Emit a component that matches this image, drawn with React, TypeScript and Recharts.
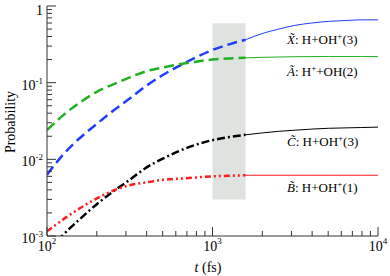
import React from "react";
import { LineChart, Line, XAxis, YAxis, ReferenceArea } from "recharts";

// time grid (fs), log spaced
const times = [100, 126, 158, 200, 251, 316, 398, 501, 631, 794, 1000, 1259, 1585, 1995, 2512, 3162, 3981, 5012, 6310, 7943, 10000];

const probX = [0.0063, 0.0117, 0.019, 0.029, 0.043, 0.062, 0.091, 0.126, 0.166, 0.214, 0.267, 0.316, 0.363, 0.437, 0.5, 0.56, 0.6, 0.63, 0.645, 0.66, 0.66];
const probA = [0.024, 0.038, 0.055, 0.076, 0.095, 0.117, 0.141, 0.158, 0.174, 0.188, 0.2, 0.207, 0.211, 0.214, 0.216, 0.218, 0.219, 0.219, 0.219, 0.219, 0.219];
const probC = [0.0006, 0.00105, 0.00166, 0.0026, 0.0038, 0.0054, 0.0078, 0.0102, 0.0129, 0.0155, 0.0178, 0.0195, 0.0209, 0.0221, 0.0232, 0.024, 0.0248, 0.0254, 0.0257, 0.026, 0.0263];
const probB = [0.00115, 0.00166, 0.0023, 0.0031, 0.0039, 0.0046, 0.005, 0.0054, 0.0056, 0.0058, 0.006, 0.0061, 0.0062, 0.0062, 0.0062, 0.0062, 0.0062, 0.0062, 0.0062, 0.0062, 0.0062];

// dashed part ends at the end of the shaded window
const splitIndex = 12;

const xTicks = [100, 200, 300, 400, 500, 600, 700, 800, 900, 1000, 2000, 3000, 4000, 5000, 6000, 7000, 8000, 9000, 10000];
const yTicks = [
  0.001, 0.002, 0.003, 0.004, 0.005, 0.006, 0.007, 0.008, 0.009,
  0.01, 0.02, 0.03, 0.04, 0.05, 0.06, 0.07, 0.08, 0.09,
  0.1, 0.2, 0.3, 0.4, 0.5, 0.6, 0.7, 0.8, 0.9, 1,
];

const shadeT = [1000, 1585];
const shadeP = [0.003, 0.594];

const FONT = "Liberation Serif, Times New Roman, DejaVu Serif, serif";
const AXIS = "#333";
const txt = { fontFamily: FONT };

const toRows = (vals: number[]) => times.map((t, i) => ({ t, p: vals[i] }));
const dashedPart = (vals: number[]) => toRows(vals).slice(0, splitIndex + 1);
const solidPart = (vals: number[]) => toRows(vals).slice(splitIndex);

const exponent = (v: number) => Math.round(Math.log10(v));
const isMajor = (v: number) => Math.abs(Math.log10(v) - exponent(v)) < 1e-6;

function BottomTick({ x, y, payload }: any) {
  const v = payload.value;
  const major = isMajor(v);
  return (
    <g>
      <line x1={x} x2={x} y1={y} y2={y - (major ? 9 : 5)} stroke={AXIS} />
      {major && (
        <text x={x} y={y + 15} textAnchor="middle" style={txt} fontSize={14} fill="#000">
          10<tspan dy={-7} fontSize={9}>{exponent(v)}</tspan>
        </text>
      )}
    </g>
  );
}

function TopTick({ x, y, payload }: any) {
  const major = isMajor(payload.value);
  return <line x1={x} x2={x} y1={y} y2={y + (major ? 9 : 5)} stroke={AXIS} />;
}

function LeftTick({ x, y, payload }: any) {
  const v = payload.value;
  const major = isMajor(v);
  const e = exponent(v);
  return (
    <g>
      <line x1={x} x2={x + (major ? 9 : 5)} y1={y} y2={y} stroke={AXIS} />
      {major &&
        (e === 0 ? (
          <text x={x - 4} y={y + 9} textAnchor="end" style={txt} fontSize={14} fill="#000">
            1
          </text>
        ) : (
          <text x={x - 4} y={y + 7} textAnchor="end" style={txt} fontSize={14} fill="#000">
            10<tspan dy={-6} fontSize={9}>{e}</tspan>
          </text>
        ))}
    </g>
  );
}

function RightTick({ x, y, payload }: any) {
  const major = isMajor(payload.value);
  return <line x1={x} x2={x - (major ? 9 : 5)} y1={y} y2={y} stroke={AXIS} />;
}

const series = [
  { key: "X", vals: probX, color: "#1f3cff", dash: "10 5" },
  { key: "A", vals: probA, color: "#20b020", dash: "10 5" },
  { key: "C", vals: probC, color: "#000000", dash: "8 3 2 3" },
  { key: "B", vals: probB, color: "#ff1c1c", dash: "6 3 2 3 2 3" },
];

function Sup({ children }: { children: React.ReactNode }) {
  return (
    <tspan dy={-5} fontSize={9}>
      {children}
    </tspan>
  );
}

export default function App() {
  return (
    <div style={{ position: "absolute", left: 0, top: 0, width: 390, height: 276, background: "#fff" }}>
      <LineChart width={390} height={276} margin={{ top: 6, right: 12, bottom: 0, left: 0 }}>
        <XAxis
          xAxisId="b"
          dataKey="t"
          type="number"
          scale="log"
          domain={[100, 10000]}
          allowDataOverflow
          ticks={xTicks}
          interval={0}
          height={40}
          tickSize={0}
          tickMargin={0}
          tickLine={false}
          tick={<BottomTick />}
          axisLine={{ stroke: AXIS }}
        />
        <XAxis
          xAxisId="t"
          orientation="top"
          dataKey="t"
          type="number"
          scale="log"
          domain={[100, 10000]}
          allowDataOverflow
          ticks={xTicks}
          interval={0}
          height={0}
          tickSize={0}
          tickMargin={0}
          tickLine={false}
          tick={<TopTick />}
          axisLine={{ stroke: AXIS }}
        />
        <YAxis
          yAxisId="l"
          type="number"
          scale="log"
          domain={[0.001, 1]}
          allowDataOverflow
          ticks={yTicks}
          interval={0}
          width={47}
          tickSize={0}
          tickMargin={0}
          tickLine={false}
          tick={<LeftTick />}
          axisLine={{ stroke: AXIS }}
        />
        <YAxis
          yAxisId="r"
          orientation="right"
          type="number"
          scale="log"
          domain={[0.001, 1]}
          allowDataOverflow
          ticks={yTicks}
          interval={0}
          width={0}
          tickSize={0}
          tickMargin={0}
          tickLine={false}
          tick={<RightTick />}
          axisLine={{ stroke: AXIS }}
        />
        <ReferenceArea
          xAxisId="b"
          yAxisId="l"
          x1={shadeT[0]}
          x2={shadeT[1]}
          y1={shadeP[0]}
          y2={shadeP[1]}
          fill="#dfe3df"
          fillOpacity={1}
          stroke="none"
        />
        {series.map((s) => (
          <Line
            key={s.key + "d"}
            xAxisId="b"
            yAxisId="l"
            data={dashedPart(s.vals)}
            dataKey="p"
            type="monotone"
            stroke={s.color}
            strokeWidth={2.5}
            strokeDasharray={s.dash}
            dot={false}
            isAnimationActive={false}
          />
        ))}
        {series.map((s) => (
          <Line
            key={s.key + "s"}
            xAxisId="b"
            yAxisId="l"
            data={solidPart(s.vals)}
            dataKey="p"
            type="monotone"
            stroke={s.color}
            strokeWidth={1}
            dot={false}
            isAnimationActive={false}
          />
        ))}
        <Line
          xAxisId="t"
          yAxisId="r"
          data={toRows(probX)}
          dataKey="p"
          stroke="none"
          dot={false}
          isAnimationActive={false}
        />
      </LineChart>
      <svg
        width={390}
        height={276}
        style={{ position: "absolute", left: 0, top: 0, pointerEvents: "none", fontFamily: FONT }}
        fill="#000"
      >
        <text x={10} y={122} fontSize={14} textAnchor="middle" dominantBaseline="central" transform="rotate(-90 10 122)">
          Probability
        </text>
        <text x={208} y={272} fontSize={14} textAnchor="middle">
          <tspan fontStyle="italic">t</tspan> (fs)
        </text>
        <text x={287} y={44} fontSize={13}>
          <tspan fontStyle="italic">{"X\u0303"}</tspan>: H+OH<Sup>+</Sup>
          <tspan dy={5}>(3)</tspan>
        </text>
        <text x={287} y={76} fontSize={13}>
          <tspan fontStyle="italic">{"\u00C3"}</tspan>: H<Sup>+</Sup>
          <tspan dy={5}>+OH(2)</tspan>
        </text>
        <text x={287} y={146} fontSize={13}>
          <tspan fontStyle="italic">{"C\u0303"}</tspan>: H+OH<Sup>+</Sup>
          <tspan dy={5}>(3)</tspan>
        </text>
        <text x={287} y={192} fontSize={13}>
          <tspan fontStyle="italic">{"B\u0303"}</tspan>: H+OH<Sup>+</Sup>
          <tspan dy={5}>(1)</tspan>
        </text>
      </svg>
    </div>
  );
}
